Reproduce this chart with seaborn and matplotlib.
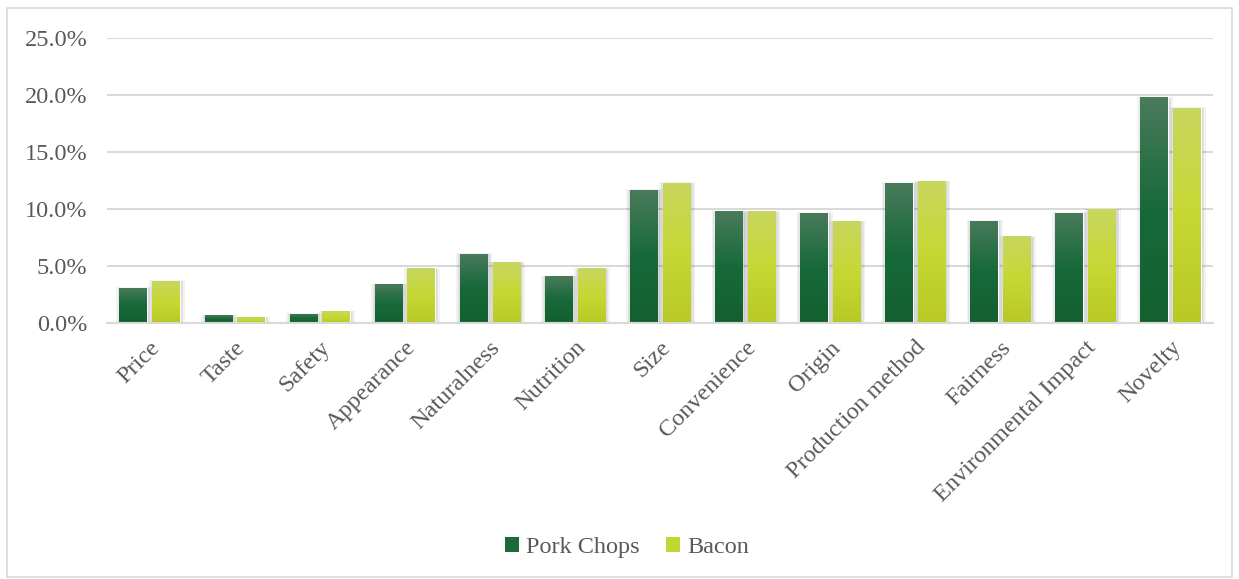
import numpy as np
import pandas as pd
import matplotlib
matplotlib.use("Agg")
import matplotlib.pyplot as plt
import seaborn as sns
from matplotlib.colors import LinearSegmentedColormap
from matplotlib.patches import Rectangle, Patch
from matplotlib.ticker import PercentFormatter

# values (percent)
categories = ["Price", "Taste", "Safety", "Appearance", "Naturalness", "Nutrition", "Size",
              "Convenience", "Origin", "Production method", "Fairness",
              "Environmental Impact", "Novelty"]
pork_chops = [3.1, 0.7, 0.8, 3.4, 6.1, 4.1, 11.7, 9.8, 9.7, 12.3, 9.0, 9.7, 19.8]
bacon = [3.7, 0.5, 1.05, 4.8, 5.35, 4.8, 12.3, 9.8, 8.95, 12.45, 7.6, 10.0, 18.9]
series = ["Pork Chops", "Bacon"]

df = pd.DataFrame({
    "category": categories * 2,
    "value": pork_chops + bacon,
    "series": ["Pork Chops"] * len(categories) + ["Bacon"] * len(categories),
})

sns.set_style("white")
plt.rcParams['font.family'] = ['Liberation Serif', 'DejaVu Serif']

fig = plt.figure(figsize=(12.39, 5.79), dpi=100)
ax = fig.add_axes([0.0864, 0.442, 0.8926, 0.492])

palette = {"Pork Chops": "#1b6b36", "Bacon": "#c4d633"}
sns.barplot(data=df, x="category", y="value", hue="series", palette=palette,
            width=0.77, ax=ax, legend=False, zorder=3)

# gradients (top lighter -> bottom darker) like the office-style fill
grads = {
    "Pork Chops": LinearSegmentedColormap.from_list("pc", ["#14602e", "#17693a", "#4a7b5b"]),
    "Bacon": LinearSegmentedColormap.from_list("bc", ["#b8c925", "#c6d834", "#c8d65e"]),
}
grad = np.linspace(0, 1, 256).reshape(-1, 1)
n = len(categories)
bw = 0.323
for i, patch in enumerate(ax.patches[:2 * n]):
    s = series[i // n]
    # centre each bar in its half of the group, leave a small gap between the pair
    cx = patch.get_x() + patch.get_width() / 2
    patch.set_x(cx - bw / 2)
    patch.set_width(bw)
    x0, y0 = patch.get_x(), patch.get_y()
    w, h = patch.get_width(), patch.get_height()
    # soft shadow, slightly right and below
    for k, a in [(0.05, 0.05), (0.03, 0.06), (0.015, 0.07)]:
        ax.add_patch(Rectangle((x0 + 0.01 - k, y0 - 0.15), w + 2 * k, h + 0.05 + k * 3,
                               facecolor="#000000", alpha=a, edgecolor="none", zorder=2))
    im = ax.imshow(grad, cmap=grads[s], origin="lower", aspect="auto",
                   extent=(x0, x0 + w, y0, y0 + h), zorder=4)
    im.set_clip_path(patch)

ax.set_xlim(-0.5, n - 0.5)
ax.set_ylim(0, 25)
ax.set_yticks([0, 5, 10, 15, 20, 25])
ax.yaxis.set_major_formatter(PercentFormatter(decimals=1))
ax.grid(axis="y", color="#d9d9d9", linewidth=1.5, zorder=0)
ax.set_axisbelow(True)
for sp in ["top", "right", "left"]:
    ax.spines[sp].set_visible(False)
ax.spines["bottom"].set_color("#d9d9d9")
ax.spines["bottom"].set_linewidth(1.5)
ax.spines["bottom"].set_zorder(5)
ax.set_xlabel("")
ax.set_ylabel("")
ax.tick_params(axis="both", length=0, labelsize=17.5, colors="#595959")
ax.tick_params(axis="y", pad=14)
ax.tick_params(axis="x", pad=10)
plt.setp(ax.get_xticklabels(), rotation=45, ha="right", rotation_mode="anchor")

handles = [Patch(facecolor="#1b6b36", edgecolor="none"), Patch(facecolor="#c4d633", edgecolor="none")]
leg = fig.legend(handles, series, loc="center", bbox_to_anchor=(0.506, 0.054), ncol=2,
                 frameon=False, fontsize=17.5, handlelength=0.55, handleheight=0.55,
                 handletextpad=0.3, columnspacing=1.1)
for t in leg.get_texts():
    t.set_color("#595959")

fig.patches.append(Rectangle((0.006, 0.004), 0.988, 0.982, transform=fig.transFigure,
                             fill=False, edgecolor="#d9d9d9", linewidth=1.2))

fig.savefig("out.png", dpi=100)
